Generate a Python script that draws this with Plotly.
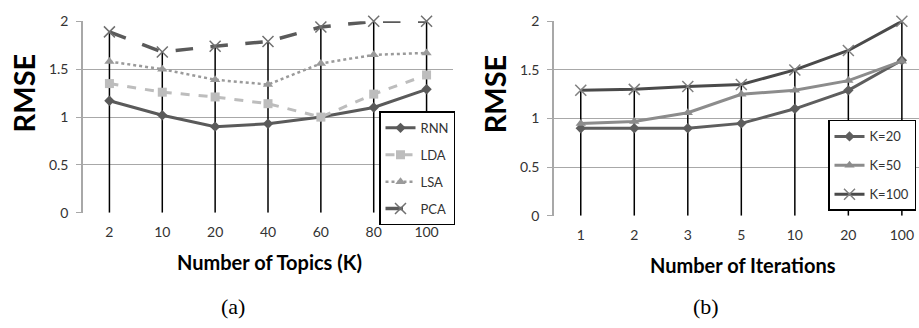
import plotly.graph_objects as go

topics = ["2", "10", "20", "40", "60", "80", "100"]
rnn = [1.17, 1.02, 0.90, 0.93, 1.00, 1.10, 1.29]
lda = [1.35, 1.26, 1.21, 1.14, 1.00, 1.24, 1.44]
lsa = [1.58, 1.50, 1.39, 1.34, 1.56, 1.65, 1.67]
pca = [1.89, 1.68, 1.74, 1.79, 1.94, 2.00, 2.00]

iters = ["1", "2", "3", "5", "10", "20", "100"]
k20 = [0.90, 0.90, 0.90, 0.95, 1.10, 1.29, 1.60]
k50 = [0.95, 0.97, 1.06, 1.25, 1.29, 1.39, 1.59]
k100 = [1.29, 1.30, 1.33, 1.35, 1.50, 1.70, 2.00]

yticks = [0, 0.5, 1, 1.5, 2]
ytick_text = ["0", "0.5", "1", "1.5", "2"]

FONT = "Lato"
fig = go.Figure()


def droplines(cats, series, xa, ya):
    xs, ys = [], []
    for i, c in enumerate(cats):
        top = max(s[i] for s in series)
        xs += [c, c, None]
        ys += [top, 0, None]
    fig.add_trace(go.Scatter(x=xs, y=ys, mode="lines", xaxis=xa, yaxis=ya,
                             line=dict(color="black", width=1.5),
                             showlegend=False, hoverinfo="skip"))


droplines(topics, [rnn, lda, lsa, pca], "x", "y")
droplines(iters, [k20, k50, k100], "x2", "y2")

left = [
    ("RNN", rnn, "#5a5a5a", "solid", "diamond", 8, 3),
    ("LDA", lda, "#bdbdbd", "dash", "square", 9, 3),
    ("LSA", lsa, "#9a9a9a", "dot", "triangle-up", 9, 2.5),
    ("PCA", pca, "#5a5a5a", "longdash", "x-thin", 11, 3.5),
]
for name, vals, col, dash, sym, size, w in left:
    mk = dict(symbol=sym, size=size, color=col)
    if sym == "x-thin":
        mk["line"] = dict(color="#707070", width=1.5)
    fig.add_trace(go.Scatter(x=topics, y=vals, name=name, mode="lines+markers",
                             line=dict(color=col, width=w, dash=dash),
                             marker=mk, cliponaxis=False, legend="legend",
                             legendgroup=name))

right = [
    ("K=20", k20, "#5e5e5e", "diamond", 8),
    ("K=50", k50, "#8c8c8c", "triangle-up", 9),
    ("K=100", k100, "#4a4a4a", "x-thin", 11),
]
for name, vals, col, sym, size in right:
    mk = dict(symbol=sym, size=size, color=col)
    if sym == "x-thin":
        mk["line"] = dict(color="#808080", width=1.5)
    fig.add_trace(go.Scatter(x=iters, y=vals, name=name, mode="lines+markers",
                             xaxis="x2", yaxis="y2",
                             line=dict(color=col, width=3),
                             marker=mk, cliponaxis=False, legend="legend2",
                             legendgroup=name))

W, H = 919, 328
axfont = dict(family=FONT, size=14, color="#333333")
common_y = dict(range=[0, 2], tickvals=yticks, ticktext=ytick_text, showgrid=True,
                gridcolor="#a8a8a8", gridwidth=1, zeroline=False, showline=True,
                linecolor="#a8a8a8", linewidth=1.5, tickfont=axfont,
                ticks="outside", ticklen=5, tickcolor="#a8a8a8", tickwidth=1,
                ticklabelstandoff=5)
common_x = dict(type="category", showgrid=False, zeroline=False, showline=False,
                tickfont=axfont, ticks="", ticklabelstandoff=9)


def ann(text, x, y, size, family=FONT, angle=0):
    return dict(text=text, x=x / W, y=(H - y) / H, xref="paper", yref="paper",
                xanchor="center", yanchor="middle", showarrow=False, textangle=angle,
                font=dict(family=family, size=size, color="black"))


fig.update_layout(
    width=W, height=H, margin=dict(l=0, r=0, t=0, b=0),
    paper_bgcolor="white", plot_bgcolor="white",
    xaxis=dict(domain=[83 / W, 453 / W], range=[-0.5, 6.5], anchor="y", **common_x),
    yaxis=dict(domain=[(H - 215) / H, (H - 13) / H], anchor="x", **common_y),
    xaxis2=dict(domain=[554 / W, 1.0], range=[-0.5, 6.32], anchor="y2", **common_x),
    yaxis2=dict(domain=[(H - 218) / H, (H - 13) / H], anchor="x2", **common_y),
    legend=dict(x=455 / W, y=(H - 108) / H, xanchor="right", yanchor="top",
                bgcolor="white", bordercolor="black", borderwidth=1.5,
                font=dict(family=FONT, size=13, color="#333333"), tracegroupgap=7),
    legend2=dict(x=916 / W, y=(H - 117) / H, xanchor="right", yanchor="top",
                 bgcolor="white", bordercolor="black", borderwidth=1.5,
                 font=dict(family=FONT, size=13, color="#333333"), tracegroupgap=9),
    showlegend=True,
    annotations=[
        ann("<b>RMSE</b>", 23, 89, 29, angle=-90),
        ann("<b>RMSE</b>", 494, 90, 29, angle=-90),
        ann("<b>Number of Topics (K)</b>", 269, 267, 20),
        ann("<b>Number of Iterations</b>", 743, 270, 20),
        ann("(a)", 233, 314, 22, family="Liberation Serif"),
        ann("(b)", 706, 314, 22, family="Liberation Serif"),
    ],
)

fig.write_html("out.html", config={"displayModeBar": False},
               post_script="document.body.style.margin='0';")
